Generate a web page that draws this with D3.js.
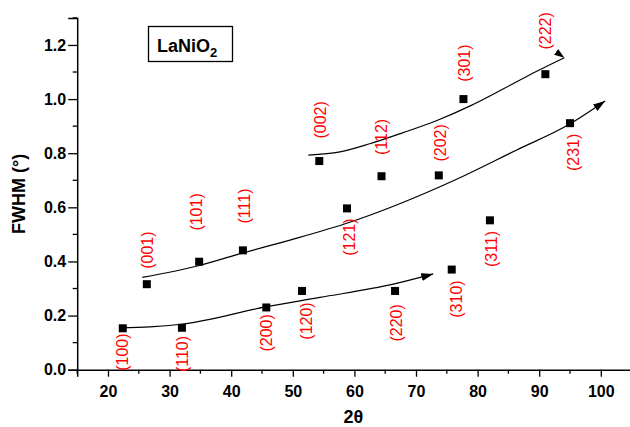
<!DOCTYPE html>
<html><head><meta charset="utf-8">
<script src="https://cdn.jsdelivr.net/npm/d3@7/dist/d3.min.js"></script>
<style>
html,body{margin:0;padding:0;background:#fff;}
svg{display:block;font-family:"Liberation Sans",Arial,sans-serif;}
</style></head>
<body>
<svg id="chart" width="630" height="427"></svg>
<script>
// ---- data ----
const hkl = ["(100)","(001)","(110)","(101)","(111)","(200)","(120)","(002)","(121)","(112)","(220)","(202)","(310)","(301)","(311)","(222)","(231)"];
const twoTheta = [22.4,26.3,32.0,34.8,41.9,45.7,51.5,54.3,58.8,64.4,66.6,73.7,75.8,77.7,82.0,91.0,95.0];
const fwhm = [0.153,0.316,0.155,0.399,0.441,0.230,0.291,0.771,0.596,0.715,0.291,0.718,0.370,1.000,0.552,1.092,0.911];
// label anchor (annotation placement, in data units)
const labelTwoTheta = [22.27,26.33,32.13,34.40,42.13,45.76,52.14,54.50,59.17,64.40,66.75,73.90,76.61,77.79,82.29,90.94,95.49];
const labelFwhm = [0.065,0.442,0.058,0.583,0.605,0.136,0.180,0.923,0.490,0.860,0.173,0.838,0.261,1.133,0.446,1.252,0.803];
// guide curves (hand-drawn trend arrows)
const curveLowX = [21.95,26.8,31.96,45.76,54.4,66.3,72.8];
const curveLowY = [0.155,0.158,0.168,0.233,0.267,0.316,0.354];
const curveMidX = [25.57,34.82,41.96,49.55,58.75,76.33,86.35,94.89,100.7];
const curveMidY = [0.341,0.385,0.432,0.479,0.541,0.701,0.812,0.907,0.993];
const curveTopX = [52.52,57.66,62.5,67.9,73.3,78.8,84.2,89.6,94.08];
const curveTopY = [0.793,0.805,0.835,0.876,0.920,0.975,1.038,1.103,1.153];
const xTicks = [20,30,40,50,60,70,80,90,100];
const xMinor = [15,25,35,45,55,65,75,85,95];
const yTicks = [0,0.2,0.4,0.6,0.8,1.0,1.2];
const yMinor = [0.1,0.3,0.5,0.7,0.9,1.1,1.3];
const legendTitle = "LaNiO";
const legendSub = "2";
const xTitle = "2θ";
const yTitle = "FWHM (°)";

// ---- drawing ----
const svg = d3.select("#chart");
const x = d3.scaleLinear().domain([15,105]).range([77.2,631.6]);
const y = d3.scaleLinear().domain([0,1.3]).range([369.7,17.9]);

const defs = svg.append("defs");
defs.append("marker").attr("id","arr").attr("viewBox","0 0 12 8")
  .attr("refX",12).attr("refY",4).attr("markerWidth",12).attr("markerHeight",8)
  .attr("markerUnits","userSpaceOnUse").attr("orient","auto")
  .append("path").attr("d","M0,0 L12,4 L0,8 Z").attr("fill","#000");
defs.append("marker").attr("id","arrTop").attr("viewBox","0 0 10 7")
  .attr("refX",10).attr("refY",3.5).attr("markerWidth",10).attr("markerHeight",7)
  .attr("markerUnits","userSpaceOnUse").attr("orient","35")
  .append("path").attr("d","M0,0 L10,3.5 L0,7 Z").attr("fill","#000");

// axes
const xAxis = d3.axisBottom(x).tickValues(xTicks).tickSize(7).tickPadding(9).tickFormat(d3.format("d"));
const gx = svg.append("g").attr("transform",`translate(0,${y(0)})`).call(xAxis);
gx.select(".domain").attr("stroke-width",1.5);
gx.selectAll(".tick line").attr("stroke-width",1.3);
gx.selectAll("text").attr("font-size",16).attr("font-weight","bold").attr("fill","#000");
svg.append("g").selectAll("line").data(xMinor).join("line")
  .attr("x1",d=>x(d)).attr("x2",d=>x(d)).attr("y1",y(0)).attr("y2",y(0)+4)
  .attr("stroke","#000").attr("stroke-width",1.3);

const yAxis = d3.axisLeft(y).tickValues(yTicks).tickSize(9).tickPadding(2).tickFormat(d3.format(".1f"));
const gy = svg.append("g").attr("transform",`translate(${x(15)},0)`).call(yAxis);
gy.select(".domain").attr("stroke-width",1.5);
gy.selectAll(".tick line").attr("stroke-width",1.3);
gy.selectAll("text").attr("font-size",16).attr("font-weight","bold").attr("fill","#000");
svg.append("g").selectAll("line").data(yMinor).join("line")
  .attr("x1",x(15)-4.5).attr("x2",x(15)).attr("y1",d=>y(d)).attr("y2",d=>y(d))
  .attr("stroke","#000").attr("stroke-width",1.3);

// axis titles
svg.append("text").attr("x",(x(15)+x(105))/2 - 1).attr("y",423)
  .attr("text-anchor","middle").attr("font-size",18).attr("font-weight","bold").text(xTitle);
svg.append("text").attr("transform",`translate(25,${y(0.65)}) rotate(-90)`)
  .attr("text-anchor","middle").attr("font-size",18).attr("font-weight","bold").text(yTitle);

// curves
const line = d3.line().x(d=>x(d[0])).y(d=>y(d[1])).curve(d3.curveMonotoneX);
const curves = [
  {xs:curveLowX, ys:curveLowY, m:"url(#arr)"},
  {xs:curveMidX, ys:curveMidY, m:"url(#arr)"},
  {xs:curveTopX, ys:curveTopY, m:"url(#arrTop)"}
];
curves.forEach(c=>{
  svg.append("path").attr("d", line(c.xs.map((v,i)=>[v,c.ys[i]])))
    .attr("fill","none").attr("stroke","#000").attr("stroke-width",1.2)
    .attr("marker-end", c.m);
});

// points
svg.append("g").selectAll("rect").data(twoTheta).join("rect")
  .attr("x",(d,i)=>x(d)-4).attr("y",(d,i)=>y(fwhm[i])-4)
  .attr("width",8).attr("height",8).attr("fill","#000");

// hkl labels
svg.append("g").selectAll("text").data(hkl).join("text")
  .attr("transform",(d,i)=>`translate(${x(labelTwoTheta[i])},${y(labelFwhm[i])}) rotate(-90)`)
  .attr("text-anchor","middle").attr("dy","0.35em")
  .attr("font-size",16).attr("fill","#ff0000").text(d=>d);

// legend box
svg.append("rect").attr("x",148.5).attr("y",26.5).attr("width",84).attr("height",35)
  .attr("fill","#fff").attr("stroke","#000").attr("stroke-width",1.3);
const lt = svg.append("text").attr("x",157).attr("y",51.5).attr("font-size",18).attr("font-weight","bold");
lt.append("tspan").text(legendTitle);
lt.append("tspan").attr("dy",5).attr("font-size",13).text(legendSub);
</script>
</body></html>
